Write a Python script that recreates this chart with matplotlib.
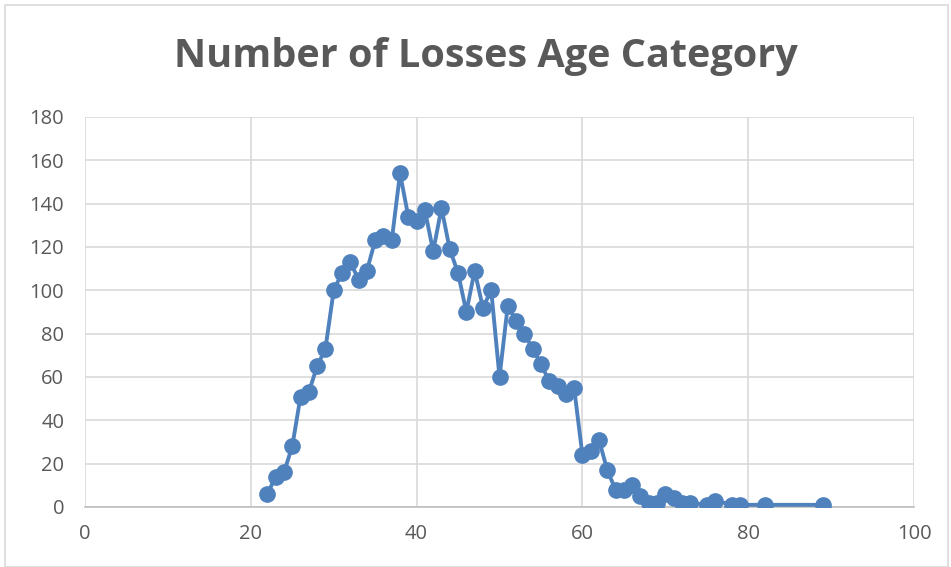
import matplotlib
matplotlib.use("Agg")
import matplotlib.pyplot as plt
from matplotlib.patches import Rectangle

# ages and number of losses
ages = [22, 23, 24, 25, 26, 27, 28, 29, 30, 31, 32, 33, 34, 35, 36, 37, 38, 39,
        40, 41, 42, 43, 44, 45, 46, 47, 48, 49, 50, 51, 52, 53, 54, 55, 56, 57,
        58, 59, 60, 61, 62, 63, 64, 65, 66, 67, 68, 69, 70, 71, 72, 73, 75, 76,
        78, 79, 82, 89]
losses = [6, 14, 16, 28, 51, 53, 65, 73, 100, 108, 113, 105, 109, 123, 125, 123, 154, 134,
          132, 137, 118, 138, 119, 108, 90, 109, 92, 100, 60, 93, 86, 80, 73, 66, 58, 56,
          52, 55, 24, 26, 31, 17, 8, 8, 10, 5, 2, 2, 6, 4, 2, 2, 1, 3,
          1, 1, 1, 1]

x_ticks = [0, 20, 40, 60, 80, 100]
y_ticks = [0, 20, 40, 60, 80, 100, 120, 140, 160, 180]

text_col = "#595959"
grid_col = "#D9D9D9"
blue = "#4F81BD"

fig = plt.figure(figsize=(9.51, 5.67), dpi=100)
ax = fig.add_axes([85/951, 1 - 507/567, (914 - 85)/951, (507 - 117)/567])

ax.plot(ages, losses, color=blue, lw=2.8, marker="o", ms=11, zorder=3)

ax.set_xlim(0, 100)
ax.set_ylim(0, 180)
ax.set_xticks(x_ticks)
ax.set_yticks(y_ticks)
ax.grid(True, color=grid_col, lw=1.2)
ax.set_axisbelow(True)
for s in ["top", "right", "left"]:
    ax.spines[s].set_visible(False)
ax.spines["bottom"].set_color("#BFBFBF")
ax.spines["bottom"].set_linewidth(1.2)
ax.tick_params(length=0, labelsize=14.5, colors=text_col)
ax.tick_params(axis="x", pad=12)
ax.tick_params(axis="y", pad=15)
for lab in ax.get_xticklabels() + ax.get_yticklabels():
    lab.set_fontfamily("Open Sans")

fig.text(486/951, 1 - 57/567, "Number of Losses Age Category", ha="center", va="center",
         fontsize=28.5, fontweight="bold", color=text_col, family="Open Sans")

# light frame round the chart
fig.patches.append(Rectangle((5/951, 0), 943/951, 1 - 5/567, transform=fig.transFigure,
                             fill=False, edgecolor="#D9D9D9", lw=1.2))

fig.savefig("out.png", dpi=100)
